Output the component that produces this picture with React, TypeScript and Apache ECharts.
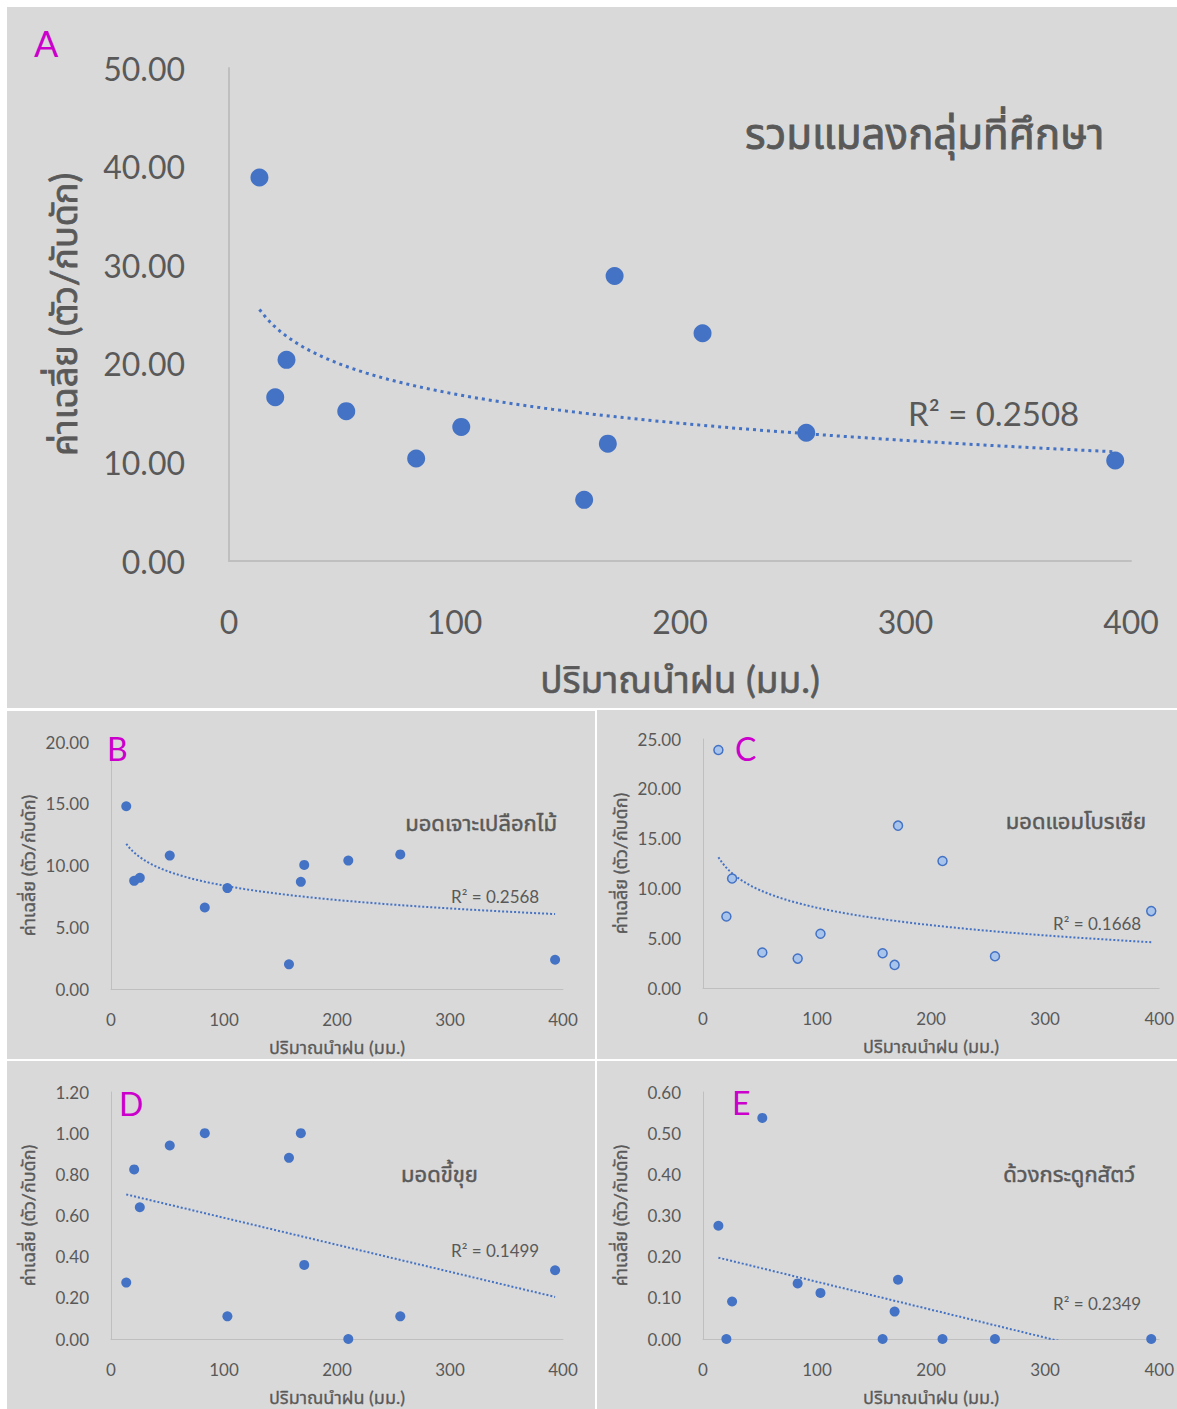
import React, { useEffect, useRef } from "react";
import * as echarts from "echarts";

// ---------- data ----------
const rainfall = [13.5, 20.5, 25.5, 52, 83, 103, 157.5, 168, 171, 210, 256, 393];
const allInsects = [38.9, 16.6, 20.4, 15.2, 10.4, 13.6, 6.2, 11.9, 28.9, 23.1, 13.0, 10.2];
const barkBeetle = [14.8, 8.76, 9.0, 10.8, 6.6, 8.17, 2.0, 8.68, 10.05, 10.4, 10.9, 2.37];
const ambrosiaBeetle = [23.9, 7.18, 11.0, 3.56, 2.95, 5.44, 3.49, 2.32, 16.3, 12.75, 3.19, 7.72];
const powderpostBeetle = [0.274, 0.824, 0.64, 0.94, 1.0, 0.11, 0.88, 1.0, 0.36, 0.0, 0.11, 0.334];
const hideBeetle = [0.275, 0, 0.091, 0.537, 0.135, 0.112, 0, 0.0665, 0.144, 0, 0, 0];

const xTicks = [0, 100, 200, 300, 400];
const yMaxes = [50, 20, 25, 1.2, 0.6];
const yIntervals = [10, 5, 5, 0.2, 0.1];

const titles = ["รวมแมลงกลุ่มที่ศึกษา", "มอดเจาะเปลือกไม้", "มอดแอมโบรเซีย", "มอดขี้ขุย", "ด้วงกระดูกสัตว์"];
const r2Labels = ["R² = 0.2508", "R² = 0.2568", "R² = 0.1668", "R² = 0.1499", "R² = 0.2349"];
const panelLetters = ["A", "B", "C", "D", "E"];
const trendTypes = ["log", "log", "log", "linear", "linear"];
const xAxisName = "ปริมาณนำฝน (มม.)";
const yAxisName = "ค่าเฉลี่ย (ตัว/กับดัก)";

const seriesValues = [allInsects, barkBeetle, ambrosiaBeetle, powderpostBeetle, hideBeetle];

// ---------- styling / layout ----------
const FONT = "Lato, 'Noto Sans Thai', 'Noto Sans', sans-serif";
const GREY = "#595959";
const BLUE = "#4472C4";
const AXIS = "#BFBFBF";
const PANEL_BG = "#D9D9D9";

const panels = [
  { x: 7, y: 7, w: 1170, h: 701 },
  { x: 7, y: 711, w: 588, h: 348 },
  { x: 597, y: 710, w: 580, h: 349 },
  { x: 7, y: 1061, w: 588, h: 348 },
  { x: 597, y: 1061, w: 580, h: 348 },
];
const grids = [
  { left: 229, top: 68, width: 902, height: 493 },
  { left: 111, top: 742, width: 452, height: 247 },
  { left: 703, top: 739, width: 465, height: 249 },
  { left: 111, top: 1092, width: 452, height: 247 },
  { left: 703, top: 1092, width: 465, height: 247 },
];
const big = [true, false, false, false, false];
const titlePos = [
  { x: 745, y: 133, size: 42, align: "left", stroke: 0.9 },
  { x: 557, y: 822, size: 22, align: "right", stroke: 0.5 },
  { x: 1146, y: 820, size: 22, align: "right", stroke: 0.5 },
  { x: 401, y: 1173, size: 22, align: "left", stroke: 0.5 },
  { x: 1135, y: 1173, size: 22, align: "right", stroke: 0.5 },
];
const r2Pos = [
  { x: 908, y: 413, size: 33 },
  { x: 451, y: 896, size: 17 },
  { x: 1053, y: 923, size: 17 },
  { x: 451, y: 1250, size: 17 },
  { x: 1053, y: 1303, size: 17 },
];
const letterPos = [
  { x: 34, y: 43, size: 36 },
  { x: 107, y: 748, size: 32 },
  { x: 735, y: 748, size: 32 },
  { x: 119, y: 1103, size: 32 },
  { x: 732, y: 1102, size: 32 },
];

function fitTrend(xs: number[], ys: number[], kind: string) {
  const tx = xs.map((v) => (kind === "log" ? Math.log(v) : v));
  const n = tx.length;
  const mx = tx.reduce((s, v) => s + v, 0) / n;
  const my = ys.reduce((s, v) => s + v, 0) / n;
  let sxy = 0;
  let sxx = 0;
  for (let i = 0; i < n; i++) {
    sxy += (tx[i] - mx) * (ys[i] - my);
    sxx += (tx[i] - mx) * (tx[i] - mx);
  }
  const b = sxy / sxx;
  const a = my - b * mx;
  const lo = Math.min(...xs);
  const hi = Math.max(...xs);
  const pts: number[][] = [];
  const steps = kind === "log" ? 120 : 1;
  for (let i = 0; i <= steps; i++) {
    const x = lo + ((hi - lo) * i) / steps;
    const y = a + b * (kind === "log" ? Math.log(x) : x);
    pts.push([x, y]);
  }
  return pts;
}

export default function App() {
  const ref = useRef<HTMLDivElement>(null);
  useEffect(() => {
    if (!ref.current) return;
    const chart = echarts.init(ref.current, undefined, { renderer: "svg" });

    const xAxes = grids.map((_, i) => ({
      type: "value",
      gridIndex: i,
      min: xTicks[0],
      max: xTicks[xTicks.length - 1],
      interval: xTicks[1] - xTicks[0],
      axisLine: { show: true, lineStyle: { color: AXIS, width: big[i] ? 2 : 1 } },
      axisTick: { show: false },
      splitLine: { show: false },
      axisLabel: {
        color: GREY,
        fontFamily: FONT,
        fontSize: big[i] ? 32 : 17,
        margin: big[i] ? 44 : 22,
      },
      name: xAxisName,
      nameLocation: "middle",
      nameGap: big[i] ? 99 : 49,
      nameTextStyle: {
        color: GREY,
        fontFamily: FONT,
        fontSize: big[i] ? 37 : 18,
        textBorderColor: GREY,
        textBorderWidth: big[i] ? 0.6 : 0.3,
      },
    }));

    const yAxes = grids.map((_, i) => ({
      type: "value",
      gridIndex: i,
      min: 0,
      max: yMaxes[i],
      interval: yIntervals[i],
      axisLine: { show: true, lineStyle: { color: AXIS, width: big[i] ? 2 : 1 } },
      axisTick: { show: false },
      splitLine: { show: false },
      axisLabel: {
        color: GREY,
        fontFamily: FONT,
        fontSize: big[i] ? 32 : 17,
        margin: big[i] ? 44 : 22,
        formatter: (v: number) => v.toFixed(2),
      },
      name: yAxisName,
      nameLocation: "middle",
      nameGap: big[i] ? 148 : 74,
      nameTextStyle: {
        color: GREY,
        fontFamily: FONT,
        fontSize: big[i] ? 36 : 18,
        textBorderColor: GREY,
        textBorderWidth: big[i] ? 0.8 : 0.4,
      },
    }));

    const series: any[] = [];
    seriesValues.forEach((vals, i) => {
      series.push({
        type: "line",
        xAxisIndex: i,
        yAxisIndex: i,
        data: fitTrend(rainfall, vals, trendTypes[i]),
        showSymbol: false,
        symbol: "none",
        smooth: false,
        clip: true,
        lineStyle: big[i]
          ? { color: BLUE, width: 3, type: [3, 4] }
          : { color: BLUE, width: 2, type: [2, 2] },
        z: 2,
      });
      series.push({
        type: "scatter",
        xAxisIndex: i,
        yAxisIndex: i,
        data: rainfall.map((x, k) => [x, vals[k]]),
        symbol: "circle",
        symbolSize: big[i] ? 18 : i === 2 ? 9 : 10,
        clip: false,
        itemStyle:
          i === 2
            ? { color: "#A9C4EB", borderColor: BLUE, borderWidth: 1.5, opacity: 1 }
            : { color: BLUE, opacity: 1 },
        z: 3,
      });
    });

    const graphics: any[] = [];
    panels.forEach((p) => {
      graphics.push({
        type: "rect",
        shape: { x: p.x, y: p.y, width: p.w, height: p.h },
        style: { fill: PANEL_BG },
        z: -10,
        silent: true,
      });
    });
    titlePos.forEach((t, i) => {
      graphics.push({
        type: "text",
        x: t.x,
        y: t.y,
        style: {
          text: titles[i],
          fill: GREY,
          stroke: GREY,
          lineWidth: t.stroke,
          font: `${t.size}px ${FONT}`,
          textAlign: t.align,
          textVerticalAlign: "middle",
          align: t.align,
          verticalAlign: "middle",
        },
        z: 5,
      });
    });
    r2Pos.forEach((t, i) => {
      graphics.push({
        type: "text",
        x: t.x,
        y: t.y,
        style: {
          text: r2Labels[i],
          fill: GREY,
          font: `${t.size}px ${FONT}`,
          textAlign: "left",
          textVerticalAlign: "middle",
          align: "left",
          verticalAlign: "middle",
        },
        z: 5,
      });
    });
    letterPos.forEach((t, i) => {
      graphics.push({
        type: "text",
        x: t.x,
        y: t.y,
        style: {
          text: panelLetters[i],
          fill: "#CC00CC",
          font: `${t.size}px ${FONT}`,
          textAlign: "left",
          textVerticalAlign: "middle",
          align: "left",
          verticalAlign: "middle",
        },
        z: 5,
      });
    });

    chart.setOption({
      animation: false,
      backgroundColor: "#FFFFFF",
      grid: grids.map((g) => ({ ...g, containLabel: false })),
      xAxis: xAxes,
      yAxis: yAxes,
      series,
      graphic: graphics,
    });
    return () => chart.dispose();
  }, []);

  return (
    <div
      ref={ref}
      style={{ position: "absolute", left: 0, top: 0, width: 1177, height: 1409 }}
    />
  );
}
